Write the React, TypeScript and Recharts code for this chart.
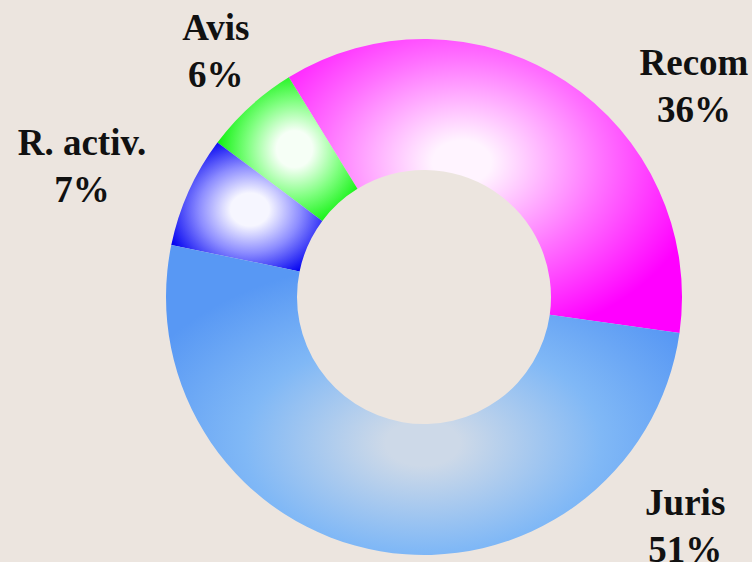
import { PieChart, Pie, Cell } from 'recharts'

// slices, counterclockwise from the right-hand side
const names = ['Recom', 'Avis', 'R. activ.', 'Juris']
const shares = [36, 6, 7, 51]

// label placement (degrees added to the slice mid angle, distance from centre)
const labelShift = [-20.5, -0.7, 5.1, 57]
const labelDist = [335, 313, 362, 356]

const fills = [
  { id: 'gRecom', edge: '#ff00ff', mid: '#ff70ff', hi: '#fff4ff', cx: '44%', cy: '42%', r: '62%', hold: '12%' },
  { id: 'gAvis', edge: '#00f000', mid: '#80ff80', hi: '#f6fff6', cx: '55%', cy: '50%', r: '58%', hold: '22%' },
  { id: 'gActiv', edge: '#0000f0', mid: '#8c8cff', hi: '#f6f6ff', cx: '52%', cy: '52%', r: '58%', hold: '22%' },
  { id: 'gJuris', edge: '#5898f4', mid: '#80b8f6', hi: '#cdd9e8', cx: '50%', cy: '64%', r: '60%', hold: '12%' }
]

const data = names.map((name, i) => ({ name, value: shares[i] }))

const RAD = Math.PI / 180

function renderLabel(props: any) {
  const { cx, cy, midAngle, index, name, value } = props
  const a = (midAngle + labelShift[index]) * RAD
  const r = labelDist[index]
  const x = cx + r * Math.cos(a)
  const y = cy - r * Math.sin(a)
  return (
    <text
      x={x}
      y={y}
      textAnchor="middle"
      fill="#111"
      fontFamily="'Liberation Serif', 'Times New Roman', serif"
      fontWeight="bold"
      fontSize={37}
    >
      <tspan x={x} y={y - 23.5}>{name}</tspan>
      <tspan x={x} y={y + 23.5}>{value}%</tspan>
    </text>
  )
}

export default function App() {
  return (
    <div
      style={{
        position: 'fixed',
        left: 0,
        top: 0,
        width: 752,
        height: 562,
        background: '#ece5df',
        overflow: 'hidden'
      }}
    >
      <svg width={0} height={0} style={{ position: 'absolute' }}>
        <defs>
          {fills.map(f => (
            <radialGradient key={f.id} id={f.id} cx={f.cx} cy={f.cy} r={f.r} fx={f.cx} fy={f.cy}>
              <stop offset="0%" stopColor={f.hi} />
              <stop offset={f.hold} stopColor={f.hi} />
              <stop offset="58%" stopColor={f.mid} />
              <stop offset="100%" stopColor={f.edge} />
            </radialGradient>
          ))}
        </defs>
      </svg>
      <PieChart width={752} height={562} margin={{ top: 0, right: 0, bottom: 0, left: 0 }}>
        <Pie
          data={data}
          dataKey="value"
          nameKey="name"
          cx={424}
          cy={297}
          innerRadius={127}
          outerRadius={258}
          startAngle={-8}
          endAngle={352}
          stroke="none"
          label={renderLabel}
          labelLine={false}
          isAnimationActive={false}
        >
          {data.map((d, i) => (
            <Cell key={d.name} fill={`url(#${fills[i].id})`} />
          ))}
        </Pie>
      </PieChart>
    </div>
  )
}
